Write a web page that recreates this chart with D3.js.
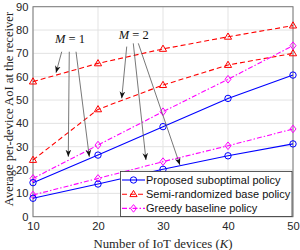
<!DOCTYPE html>
<html><head><meta charset="utf-8">
<script src="https://cdn.jsdelivr.net/npm/d3@7"></script>
<style>body{margin:0;background:#fff}svg{display:block}</style>
</head><body>
<script>
const devices = [10, 20, 30, 40, 50];
const proposedUpper = [14.6, 26.4, 38.6, 50.7, 60.7];
const proposedLower = [7.9, 14.0, 20.3, 26.1, 31.2];
const semiUpper = [57.9, 65.7, 71.9, 77.1, 81.9];
const semiLower = [24.3, 46.0, 56.4, 65.0, 70.0];
const greedyUpper = [16.4, 30.7, 45.0, 58.9, 73.3];
const greedyLower = [9.3, 16.4, 23.6, 30.4, 37.6];
const yTicks = [0, 10, 20, 30, 40, 50, 60, 70, 80, 90];
const xTicks = [10, 20, 30, 40, 50];
const legendLabels = ["Proposed suboptimal policy", "Semi-randomized base policy", "Greedy baseline policy"];
// annotations in data coordinates
const m1Label = {text: "1", x: 15.7, y: 74.3};
const m2Label = {text: "2", x: 25.5, y: 76.2};
const m1Arrows = [[14.42, 70.7, 13.54, 61.7], [15.58, 70.7, 15.43, 25.7], [16.62, 70.7, 18.66, 25.7]];
const m2Arrows = [[24.42, 72.9, 23.65, 50.7], [25.43, 74.3, 27.38, 24.3], [26.2, 74.3, 32.6, 22.2]];

const W = 300, H = 250;
const svg = d3.select("body").append("svg").attr("width", W).attr("height", H);
const x = d3.scaleLinear().domain([10, 50]).range([33, 293]);
const y = d3.scaleLinear().domain([0, 90]).range([216.7, 6.7]);

const sans = "'Liberation Sans', Arial, sans-serif";
const serif = "'Liberation Serif', 'Times New Roman', serif";

// grid
svg.append("g").selectAll("line.gx").data(xTicks).join("line")
  .attr("x1", d => x(d)).attr("x2", d => x(d)).attr("y1", y(0)).attr("y2", y(90))
  .attr("stroke", "#e3e3e3").attr("stroke-width", 1);
svg.append("g").selectAll("line.gy").data(yTicks).join("line")
  .attr("x1", x(10)).attr("x2", x(50)).attr("y1", d => y(d)).attr("y2", d => y(d))
  .attr("stroke", "#e3e3e3").attr("stroke-width", 1);

// axes
const xa = svg.append("g").attr("transform", `translate(0,${y(0)})`)
  .call(d3.axisBottom(x).tickValues(xTicks).tickSize(0).tickPadding(5.5));
const ya = svg.append("g").attr("transform", `translate(${x(10)},0)`)
  .call(d3.axisLeft(y).tickValues(yTicks).tickSize(0).tickPadding(4.5));
[xa, ya].forEach(a => {
  a.select(".domain").remove();
  a.selectAll("text").attr("font-family", sans).attr("font-size", 11.2).attr("fill", "#262626");
});
// box
svg.append("rect").attr("x", x(10)).attr("y", y(90)).attr("width", x(50) - x(10)).attr("height", y(0) - y(90))
  .attr("fill", "none").attr("stroke", "#7a7a7a").attr("stroke-width", 1);

const series = [
  {vals: semiUpper, color: "#ff0000", dash: "5,3", marker: "tri"},
  {vals: semiLower, color: "#ff0000", dash: "5,3", marker: "tri"},
  {vals: greedyUpper, color: "#ff00ff", dash: "5,2,1.5,2", marker: "dia"},
  {vals: greedyLower, color: "#ff00ff", dash: "5,2,1.5,2", marker: "dia"},
  {vals: proposedUpper, color: "#0000ff", dash: null, marker: "circ"},
  {vals: proposedLower, color: "#0000ff", dash: null, marker: "circ"}
];
const line = d3.line().x((d, i) => x(devices[i])).y(d => y(d));

function drawMarker(g, type, cx, cy, color) {
  if (type === "circ") {
    g.append("circle").attr("cx", cx).attr("cy", cy).attr("r", 3.2)
      .attr("fill", "none").attr("stroke", color).attr("stroke-width", 1);
  } else if (type === "tri") {
    g.append("path").attr("d", `M${cx},${cy-3.8}L${cx+3.6},${cy+2.4}L${cx-3.6},${cy+2.4}Z`)
      .attr("fill", "none").attr("stroke", color).attr("stroke-width", 1);
  } else {
    g.append("path").attr("d", `M${cx},${cy-3.8}L${cx+3},${cy}L${cx},${cy+3.8}L${cx-3},${cy}Z`)
      .attr("fill", "none").attr("stroke", color).attr("stroke-width", 1);
  }
}

const plot = svg.append("g");
series.forEach(s => {
  plot.append("path").attr("d", line(s.vals)).attr("fill", "none")
    .attr("stroke", s.color).attr("stroke-width", 1.1)
    .attr("stroke-dasharray", s.dash);
  s.vals.forEach((v, i) => drawMarker(plot, s.marker, x(devices[i]), y(v), s.color));
});

// arrows
const defs = svg.append("defs");
defs.append("marker").attr("id", "ah").attr("viewBox", "0 0 10 10").attr("refX", 10).attr("refY", 5)
  .attr("markerWidth", 7).attr("markerHeight", 7).attr("markerUnits", "userSpaceOnUse").attr("orient", "auto")
  .append("path").attr("d", "M0,1L10,5L0,9L3,5Z").attr("fill", "#111");
const ann = svg.append("g");
m1Arrows.concat(m2Arrows).forEach(a => {
  ann.append("line").attr("x1", x(a[0])).attr("y1", y(a[1])).attr("x2", x(a[2])).attr("y2", y(a[3]))
    .attr("stroke", "#555").attr("stroke-width", 0.8).attr("marker-end", "url(#ah)");
});
[m1Label, m2Label].forEach(l => {
  const t = ann.append("text").attr("x", x(l.x)).attr("y", y(l.y)).attr("text-anchor", "middle")
    .attr("font-family", serif).attr("font-size", 12.5).attr("fill", "#111");
  t.append("tspan").attr("font-style", "italic").text("M");
  t.append("tspan").text(" = " + l.text);
});

// legend
const lg = svg.append("g");
lg.append("rect").attr("x", 120.5).attr("y", 171.5).attr("width", 171.5).attr("height", 45)
  .attr("fill", "#fff").attr("stroke", "#333").attr("stroke-width", 0.8);
const legendStyles = [series[4], series[0], series[2]];
legendLabels.forEach((lab, i) => {
  const cy = 180 + i * 14.2;
  const s = legendStyles[i];
  lg.append("line").attr("x1", 122).attr("x2", 145).attr("y1", cy).attr("y2", cy)
    .attr("stroke", s.color).attr("stroke-width", 1.1).attr("stroke-dasharray", s.dash);
  drawMarker(lg, s.marker, 133.5, cy, s.color);
  lg.append("text").attr("x", 146).attr("y", cy).attr("dy", "0.35em")
    .attr("font-family", sans).attr("font-size", 11).attr("fill", "#111").text(lab);
});

// axis labels
const xl = svg.append("text").attr("x", 163).attr("y", 247.5).attr("text-anchor", "middle")
  .attr("font-family", serif).attr("font-size", 12.8).attr("fill", "#262626");
xl.append("tspan").text("Number of IoT devices (");
xl.append("tspan").attr("font-style", "italic").text("K");
xl.append("tspan").text(")");
svg.append("text").attr("transform", "translate(12.5,109) rotate(-90)").attr("text-anchor", "middle")
  .attr("font-family", serif).attr("font-size", 12.6).attr("fill", "#262626")
  .text("Average per-device AoI at the receiver");
</script>
</body></html>
